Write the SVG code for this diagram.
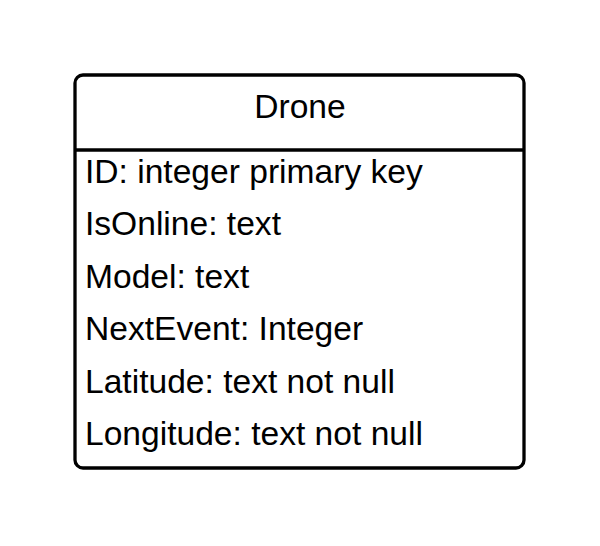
<svg xmlns="http://www.w3.org/2000/svg" width="600" height="546" viewBox="0 0 600 546">
<style>
.t{font-family:"Liberation Sans",Arial,sans-serif;font-size:33.6px;fill:#000}
.box{fill:#fff;stroke:#000;stroke-width:3.3}
</style>
<rect width="600" height="546" fill="#fff"/>
<g id="drone">
<rect class="box" x="75" y="75" width="449" height="393" rx="8"/>
<line x1="75" y1="150" x2="524" y2="150" stroke="#000" stroke-width="3.3"/>
<text class="t" x="300" y="118" text-anchor="middle">Drone</text>
<text class="t" x="85" y="183">ID: integer primary key</text>
<text class="t" x="85" y="235">IsOnline: text</text>
<text class="t" x="85" y="288">Model: text</text>
<text class="t" x="85" y="340">NextEvent: Integer</text>
<text class="t" x="85" y="393">Latitude: text not null</text>
<text class="t" x="85" y="445">Longitude: text not null</text>
</g>
<g id="connectors"/>
</svg>
